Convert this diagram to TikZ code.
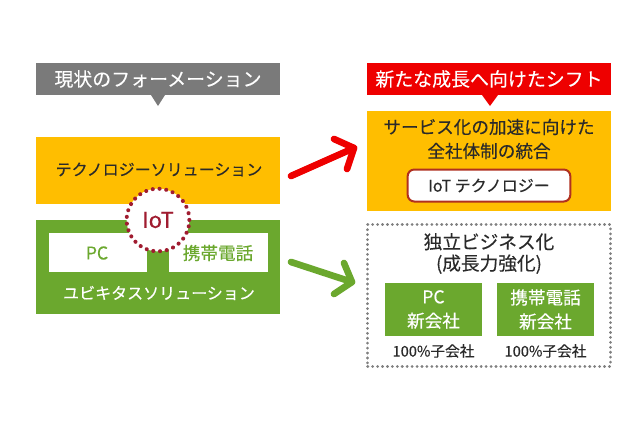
\documentclass[tikz,border=0pt]{standalone}
\usepackage{fontspec}
\setmainfont{Noto Sans CJK JP}[FakeBold=0.25]
\usetikzlibrary{positioning}
\definecolor{cyellow}{HTML}{FFBE00}
\definecolor{cgreen}{HTML}{6BA82E}
\definecolor{cgray}{HTML}{7A7A7A}
\definecolor{cred}{HTML}{EE0000}
\definecolor{cmaroon}{HTML}{A01C30}
\definecolor{cbrown}{HTML}{B03020}
\definecolor{ctext}{HTML}{2A2A2A}
\tikzset{
  panel/.style={inner sep=0,outer sep=0},
  label/.style={inner sep=0,outer sep=0,align=center,font=\fontsize{13.2}{18}\selectfont,text=ctext},
  titlelabel/.style={label,text=white,font=\fontsize{14.2}{18}\selectfont},
  whitelabel/.style={label,text=white},
  greenlabel/.style={label,text=cgreen},
  arrowline/.style={line width=5pt,line cap=round,line join=round}
}
\begin{document}
\begin{tikzpicture}[x=0.75pt,y=-0.75pt]
\useasboundingbox (0,0) rectangle (640,426);
% callouts
\node[panel,fill=cgray,minimum width=183pt,minimum height=24pt] (cur) at (158,79) {};
\fill[cgray] (151,95) -- (158,106) -- (165,95) -- cycle;
\node[titlelabel] at (cur) {現状のフォーメーション};
\node[panel,fill=cred,minimum width=183pt,minimum height=24pt] (new) at (489,79) {};
\fill[cred] (482,95) -- (490,106) -- (498,95) -- cycle;
\node[titlelabel] at (new) {新たな成長へ向けたシフト};
% left
\node[panel,fill=cyellow,minimum width=183pt,minimum height=50.5pt] (tech) at (158,170.5) {};
\node[label,font=\fontsize{12}{16}\selectfont] at (159,169.5) {テクノロジーソリューション};
\node[panel,fill=cgreen,minimum width=183pt,minimum height=71pt] (ubi) at (158,267) {};
\node[panel,fill=white,minimum width=73.5pt,minimum height=29.5pt] (pc) at (98,252.5) {};
\node[panel,fill=white,minimum width=74pt,minimum height=29.5pt] (phone) at (218.5,252.5) {};
\node[greenlabel] at (97,253) {PC};
\node[greenlabel] at (218,253) {携帯電話};
\node[whitelabel,font=\fontsize{12}{16}\selectfont] at (159,293) {ユビキタスソリューション};
\node[circle,fill=white,draw=cmaroon,line width=3pt,dash pattern=on 0.1pt off 5pt,line cap=round,minimum size=47pt,inner sep=0] (iot) at (158,220) {};
\node[label,text=cmaroon,font=\fontsize{16.5}{20}\selectfont] at (iot) {IoT};
% right
\node[panel,fill=cyellow,minimum width=183pt,minimum height=75pt] (svc) at (489,161) {};
\node[label] at (489,139) {サービス化の加速に向けた\\全社体制の統合};
\node[panel,fill=white,draw=cbrown,line width=1.5pt,rounded corners=5pt,minimum width=122pt,minimum height=24pt] (iottech) at (489,185.5) {};
\node[label,font=\fontsize{12}{16}\selectfont] at (iottech) {IoT テクノロジー};
\node[panel,draw=gray,line width=2.2pt,line cap=round,dash pattern=on 0.1pt off 3.6pt,minimum width=182pt,minimum height=106pt] (indep) at (489,295.5) {};
\node[label,font=\fontsize{14}{16}\selectfont] at (489,253.5) {独立ビジネス化\\(成長力強化)};
\node[panel,fill=cgreen,minimum width=73pt,minimum height=40pt] (pcco) at (433.5,309.5) {};
\node[panel,fill=cgreen,minimum width=73pt,minimum height=40pt] (phco) at (545.5,309.5) {};
\node[whitelabel] at (pcco) {PC\\新会社};
\node[whitelabel] at (phco) {携帯電話\\新会社};
\node[label,font=\fontsize{11}{14}\selectfont] (s1) at (433.5,351) {100\%子会社};
\node[label,font=\fontsize{11}{14}\selectfont] (s2) at (545.5,351) {100\%子会社};
% arrows
\coordinate (ra) at (291,176);
\coordinate (rb) at (354,148);
\coordinate (rc) at (334,139);
\coordinate (rd) at (347,169);
\draw[arrowline,cred] (ra) -- (rb);
\draw[arrowline,cred] (rc) -- (rb) -- (rd);
\coordinate (ga) at (291,262);
\coordinate (gb) at (352,282);
\coordinate (gc) at (344,263);
\coordinate (gd) at (334,294);
\draw[arrowline,cgreen] (ga) -- (gb);
\draw[arrowline,cgreen] (gc) -- (gb) -- (gd);
\end{tikzpicture}
\end{document}
